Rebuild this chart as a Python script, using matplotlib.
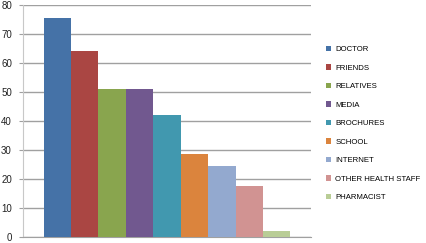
import matplotlib
matplotlib.use("Agg")
import matplotlib.pyplot as plt

categories = ["DOCTOR", "FRIENDS", "RELATIVES", "MEDIA", "BROCHURES", "SCHOOL",
              "INTERNET", "OTHER HEALTH STAFF", "PHARMACIST"]
values = [75.5, 64.2, 51.0, 51.0, 42.1, 28.7, 24.4, 17.6, 2.1]
colors = ["#4572A7", "#AA4643", "#89A54E", "#71588F", "#4198AF", "#DB843D",
          "#93A9CF", "#D19392", "#B9CD96"]
yticks = [0, 10, 20, 30, 40, 50, 60, 70, 80]

plt.rcParams['font.family'] = ['Liberation Sans', 'DejaVu Sans']

fig = plt.figure(figsize=(4.26, 2.43), dpi=100)
ax = fig.add_axes([23/426, 6/243, (311-23)/426, 232/243])

n = len(values)
width = 1.0
gap = 1.5
xs = [gap/2 + i*width + width/2 for i in range(n)]
handles = []
for x, v, c, lab in zip(xs, values, colors, categories):
    h = ax.bar(x, v, width=width, color=c, label=lab, zorder=3, linewidth=0)
    handles.append(h)

ax.set_xlim(0, n*width + gap)
ax.set_ylim(0, 80)
ax.set_yticks(yticks)
ax.set_xticks([])
ax.yaxis.grid(True, color="#A0A0A0", linewidth=1, zorder=0)
ax.tick_params(axis='y', length=3, color="#A0A0A0", labelsize=7, pad=5, labelcolor="#222222")
for s in ['top', 'right']:
    ax.spines[s].set_visible(False)
ax.spines['left'].set_color("#C8C8C8")
ax.spines['bottom'].set_color("#A0A0A0")

fig.legend(handles=handles, labels=categories, loc='upper left',
           bbox_to_anchor=(326/426, 1 - 46/243), frameon=False, fontsize=5.6,
           handlelength=0.7, handleheight=0.7, handletextpad=0.5,
           labelspacing=1.42, borderpad=0, borderaxespad=0)

fig.savefig("out.png", dpi=100)
